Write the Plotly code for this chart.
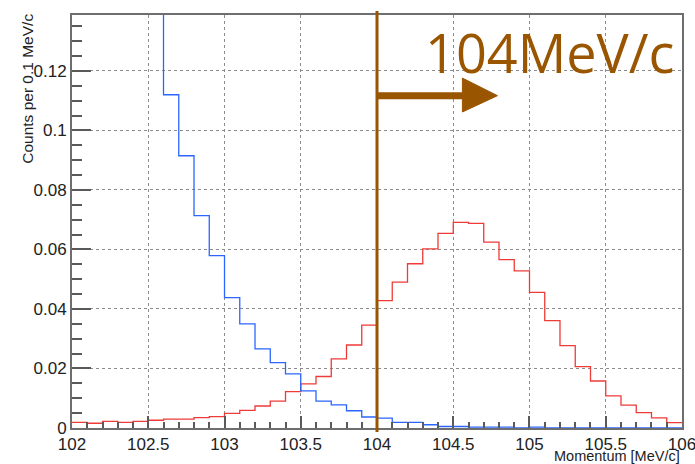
import plotly.graph_objects as go

# Bin edges: 102.0 .. 106.0 in steps of 0.1 (40 bins)
bin_edges = [round(102.0 + 0.1 * i, 1) for i in range(41)]

# Blue histogram (first bins are off-scale, above the frame)
blue_vals = [0.60, 0.52, 0.45, 0.36, 0.27, 0.19,
             0.112, 0.0915, 0.0714, 0.0579, 0.0438, 0.035, 0.0266, 0.022, 0.0182,
             0.0125, 0.009, 0.0078, 0.0058, 0.0037, 0.0033, 0.0019, 0.0019, 0.0011,
             0.0005, 0.0005, 0.0003, 0.0003, 0.0003, 0.0, 0.0003, 0.0, 0.0, 0.0,
             0.0, 0.0, 0.0, 0.0, 0.0, 0.0]

# Red histogram
red_vals = [0.0019, 0.0016, 0.0022, 0.0019, 0.0022, 0.0026, 0.003, 0.003, 0.0035, 0.0038,
            0.0049, 0.0059, 0.0074, 0.009, 0.0122, 0.0148, 0.0173, 0.0232, 0.0279, 0.0346,
            0.0428, 0.049, 0.0552, 0.0602, 0.0654, 0.0691, 0.0688, 0.0625, 0.0566, 0.0528,
            0.0456, 0.0361, 0.0277, 0.0206, 0.0158, 0.0108, 0.0077, 0.0052, 0.0034, 0.0018]

x_tickvals = [102, 102.5, 103, 103.5, 104, 104.5, 105, 105.5, 106]
x_ticktext = ["102", "102.5", "103", "103.5", "104", "104.5", "105", "105.5", "106"]
y_tickvals = [0, 0.02, 0.04, 0.06, 0.08, 0.1, 0.12]
y_ticktext = ["0", "0.02", "0.04", "0.06", "0.08", "0.1", "0.12"]

cut_value = 104.0
cut_label = "104MeV/c"
arrow_end = 104.79
arrow_y = 0.1117

BROWN = "#9A5500"

def step_xy(vals):
    xs = bin_edges[:-1] + [bin_edges[-1]]
    ys = list(vals) + [vals[-1]]
    return xs, ys

fig = go.Figure()
bx, by = step_xy(red_vals)
fig.add_trace(go.Scatter(x=bx, y=by, mode="lines", line=dict(shape="hv", color="#EE3B37", width=1.3),
                         hoverinfo="skip", showlegend=False))
bx, by = step_xy(blue_vals)
fig.add_trace(go.Scatter(x=bx, y=by, mode="lines", line=dict(shape="hv", color="#2A66FF", width=1.3),
                         hoverinfo="skip", showlegend=False))

# cut line
fig.add_shape(type="line", xref="x", yref="paper", x0=cut_value, x1=cut_value, y0=-0.0097, y1=1.0097,
              line=dict(color=BROWN, width=3), layer="above")
# arrow shaft
head_base = arrow_end - 0.23
fig.add_shape(type="line", xref="x", yref="y", x0=cut_value, x1=head_base + 0.01, y0=arrow_y, y1=arrow_y,
              line=dict(color=BROWN, width=7), layer="above")
# arrow head
fig.add_shape(type="path", xref="x", yref="y",
              path=f"M {head_base},{arrow_y + 0.0059} L {arrow_end},{arrow_y} L {head_base},{arrow_y - 0.0055} Z",
              fillcolor=BROWN, line=dict(color=BROWN, width=1), layer="above")

fig.add_annotation(text=cut_label, xref="paper", yref="paper", x=0.9895, y=0.910,
                   xanchor="right", yanchor="middle", showarrow=False,
                   font=dict(family="Open Sans", size=54, color=BROWN))

axis_common = dict(showline=True, linecolor="#6E6E6E", linewidth=2, mirror=True,
                   showgrid=True, gridcolor="#8C8C8C", gridwidth=1, griddash="dot",
                   ticks="inside", tickcolor="#5A5A5A", tickwidth=2,
                   zeroline=False, ticklabeloverflow="allow", automargin=False,
                   tickfont=dict(family="Liberation Sans", size=17, color="#222222"))

fig.update_xaxes(range=[101.9999, 106.0001], tickvals=x_tickvals, ticktext=x_ticktext, ticklen=12,
                 minor=dict(dtick=0.1, tick0=102, ticks="inside", ticklen=6, tickcolor="#5A5A5A", tickwidth=1.5, showgrid=False),
                 **axis_common)
fig.update_yaxes(range=[0, 0.1388], tickvals=y_tickvals, ticktext=y_ticktext, ticklen=19,
                 minor=dict(dtick=0.005, tick0=0, ticks="inside", ticklen=10, tickcolor="#5A5A5A", tickwidth=1.5, showgrid=False),
                 **axis_common)

fig.add_annotation(text="Momentum [MeV/c]", xref="paper", yref="paper", x=0.998, y=-0.047,
                   xanchor="right", yanchor="top", showarrow=False, borderpad=0,
                   font=dict(family="Liberation Sans", size=14.5, color="#222222"))
fig.add_annotation(text="Counts per 0.1 MeV/c", xref="paper", yref="paper", x=-0.072, y=1.008,
                   xanchor="center", yanchor="top", textangle=-90, showarrow=False,
                   font=dict(family="Liberation Sans", size=15.5, color="#222222"))

fig.update_layout(width=695, height=464, margin=dict(l=72, r=13, t=15, b=36, autoexpand=False),
                  plot_bgcolor="white", paper_bgcolor="white")

fig.write_html("out.html")
